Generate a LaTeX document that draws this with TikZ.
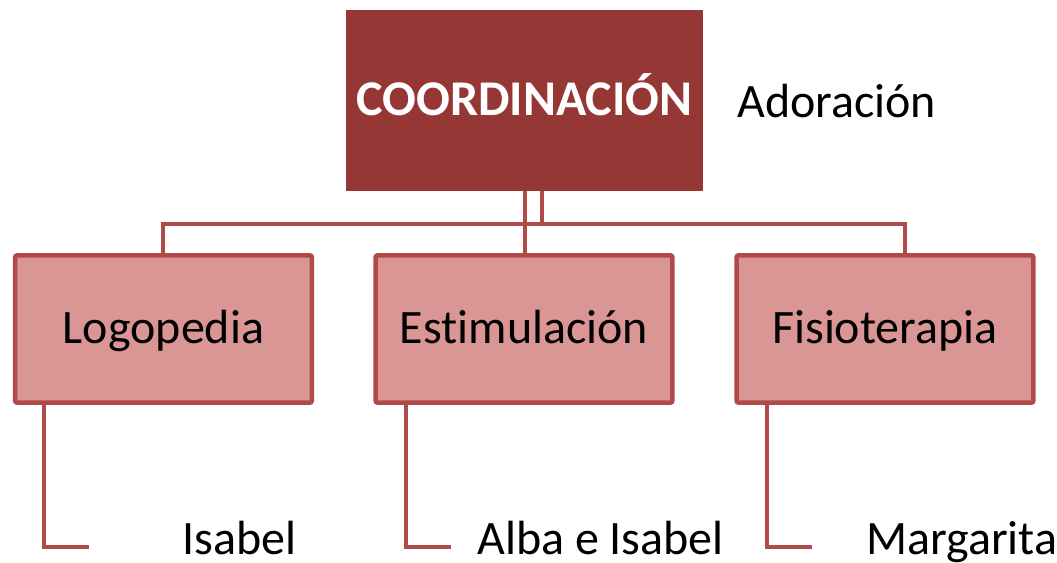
\documentclass[tikz,border=0pt]{standalone}
\usepackage{fontspec}
\setmainfont{Carlito}[RawFeature={-liga;-calt;-dlig;-clig}]
\begin{document}
\begin{tikzpicture}[x=0.75pt,y=-0.75pt,
  topbox/.style={fill=topred, draw=none, minimum width=267.75pt, minimum height=135.75pt, inner sep=0pt, text=white, text height=26pt, text depth=2.75pt, font=\fontsize{37.5}{40}\selectfont\bfseries},
  midbox/.style={fill=midpink, draw=edgered, line width=3.4pt, rounded corners=1.5pt, minimum width=222.5pt, minimum height=110.5pt, inner sep=0pt, text height=24pt, text depth=3pt, font=\fontsize{36}{40}\selectfont},
  lbl/.style={anchor=base west, inner sep=0pt, font=\fontsize{36}{40}\selectfont},
  conn/.style={draw=edgered, line width=3.6pt}]
\definecolor{topred}{HTML}{953735}
\definecolor{midpink}{HTML}{DA9694}
\definecolor{edgered}{HTML}{B04A48}
\useasboundingbox (0,0) rectangle (1057,563);

\node[topbox] (coord) at (524.5,100.5) {COORDINACIÓN};
\node[lbl] (ador) at (737,118) {Adoración};

\node[midbox] (logo) at (163.5,329) {Logopedia};
\node[midbox] (estim) at (524,329) {Estimulación};
\node[midbox] (fisio) at (885,329) {Fisioterapia};

\node[lbl] (isa) at (182,554) {Isabel};
\node[lbl] (alba) at (477,554) {Alba e Isabel};
\node[lbl] (marg) at (866,554) {Margarita};

\coordinate (hl) at (163,224);
\coordinate (hr) at (905,224);
\coordinate (b1) at (89,547);
\coordinate (b2) at (451,547);
\coordinate (b3) at (812,547);

\draw[conn] (coord.south -| 525,0) -- (estim.north -| 525,0);
\draw[conn] (coord.south -| 542,0) -- (542,224);
\draw[conn] (hl |- logo.north) -- (hl) -- (hr) -- (hr |- fisio.north);

\draw[conn] (logo.south -| 44,0) |- (b1);
\draw[conn] (estim.south -| 406,0) |- (b2);
\draw[conn] (fisio.south -| 767,0) |- (b3);
\end{tikzpicture}
\end{document}
